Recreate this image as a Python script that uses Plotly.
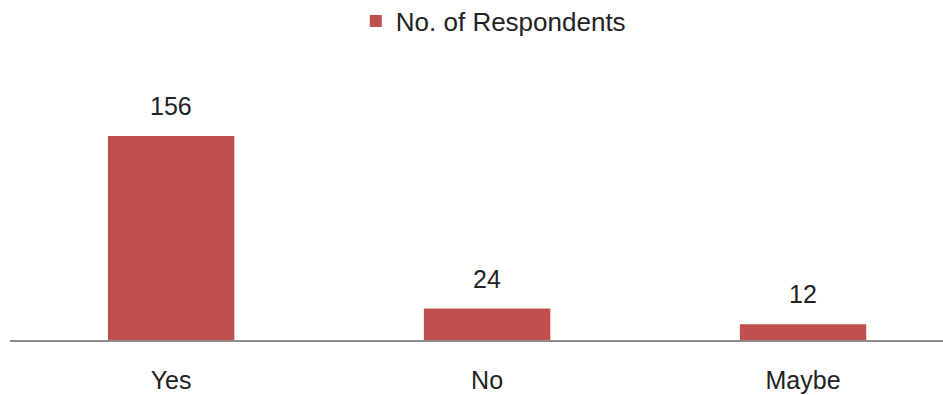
import plotly.graph_objects as go

categories = ["Yes", "No", "Maybe"]
values = [156, 24, 12]
series_name = "No. of Respondents"

color = "#C0504D"
font_family = "Liberation Sans, Arial, sans-serif"
fs = 25

fig = go.Figure()
fig.add_trace(go.Bar(
    x=categories, y=values, name=series_name,
    marker=dict(color=color, line=dict(width=0)),
    width=0.4,
    showlegend=True,
))
for c, v in zip(categories, values):
    fig.add_annotation(x=c, y=v, text=str(v), showarrow=False, yanchor="bottom",
                       yshift=14, font=dict(size=fs, color="#222222", family=font_family))

fig.update_layout(
    width=943, height=395,
    margin=dict(l=10, r=0, t=60, b=55, autoexpand=False),
    paper_bgcolor="white", plot_bgcolor="white",
    font=dict(family=font_family, size=fs, color="#222222"),
    showlegend=True,
    legend=dict(orientation="h", x=0.518, xanchor="center", y=1.139, yanchor="middle",
                yref="paper", font=dict(size=26), itemwidth=30),
    bargap=0.6,
    xaxis=dict(range=[-0.51, 2.443], showgrid=False, showline=True, linecolor="#8c8c8c",
               linewidth=2, ticks="", tickfont=dict(size=fs, color="#222222"),
               ticklabelstandoff=17, automargin=False),
    yaxis=dict(range=[0, 214], visible=False, automargin=False),
)
fig.write_html("out.html")
